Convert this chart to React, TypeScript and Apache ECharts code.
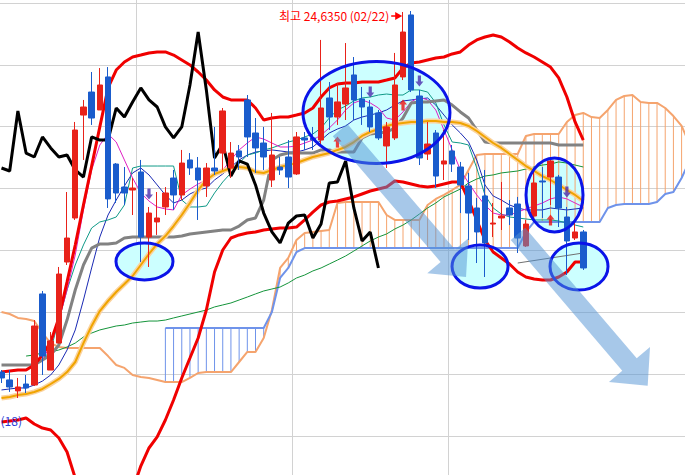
import React, { useEffect, useRef } from 'react';
import * as echarts from 'echarts';

const N = 85;
const categories = Array.from({ length: N }, (_, i) => `D${i + 1}`);

// [open, close, low, high]
const candles = [
  [21717, 21669, 21628, 21733], [21653, 21596, 21556, 21733], [21564, 21596, 21507, 21669], [21620, 21588, 21547, 21693],
  [21612, 22089, 21604, 22137], [22348, 21846, 21693, 22372], [21733, 21968, 21733, 22040], [21951, 22509, 21951, 22566],
  [22606, 22800, 22582, 23172], [22962, 23673, 22946, 23738], [23794, 23859, 23431, 23916], [23980, 23770, 23714, 24142],
  [23835, 24037, 23835, 24174], [24102, 23116, 23043, 24182], [23398, 23164, 23083, 23406], [23212, 23164, 23067, 23374],
  [23188, 23204, 22986, 23285], [23334, 22808, 22606, 23431], [22808, 23002, 22566, 23051], [22930, 22962, 22825, 23172],
  [23051, 23164, 22986, 23212], [23285, 23148, 23027, 23350], [23148, 23406, 23107, 23512], [23431, 23366, 23310, 23487],
  [23366, 23269, 22946, 23455], [23221, 23366, 23132, 23406], [23366, 23342, 23310, 23698], [23487, 23827, 23350, 23851],
  [23366, 23487, 23285, 23576], [23504, 23455, 23350, 23552], [23916, 23617, 23455, 23956], [23649, 23528, 23326, 23770],
  [23568, 23455, 23350, 23698], [23269, 23471, 23212, 23811], [23374, 23350, 23310, 23455], [23455, 23293, 23204, 23592],
  [23318, 23617, 23310, 23657], [23609, 23592, 23512, 23657], [23609, 23592, 23512, 23698], [23592, 23851, 23536, 24401],
  [23932, 23778, 23673, 24061], [23778, 23900, 23714, 24053], [23883, 24013, 23754, 24376], [24118, 23916, 23754, 24263],
  [23924, 23859, 23714, 24021], [23859, 23698, 23657, 23916], [23811, 23609, 23592, 23835], [23544, 23698, 23366, 23738],
  [23609, 24037, 23592, 24296], [24102, 24465, 24077, 24627], [24603, 23997, 23980, 24635], [23948, 23447, 23390, 23997],
  [23479, 23560, 23431, 23738], [23649, 23301, 23204, 23673], [23398, 23423, 23269, 23673], [23504, 23398, 23334, 23552],
  [23374, 23229, 23002, 23415], [23221, 23002, 22784, 23326], [23043, 22849, 22598, 23124], [23140, 22760, 22485, 23350],
  [22913, 22921, 22808, 23083], [22962, 22978, 22865, 23253], [23043, 22986, 22905, 23107], [23075, 22800, 22679, 23132],
  [22736, 22913, 22728, 22946], [22978, 23245, 22962, 23350], [23261, 23253, 22962, 23374], [23293, 23423, 23067, 23455],
  [23293, 23043, 22889, 23310], [22970, 22776, 22501, 23051], [22800, 22849, 22784, 22930], [22849, 22558, 22542, 22865],
];

const bollUpper = [
  21717, 21725, 21733, 21733, 21774, 21855, 21960, 22154, 22445, 22744,
  23067, 23382, 23698, 24013, 24158, 24223, 24263, 24279, 24296, 24304,
  24304, 24279, 24239, 24199, 24142, 24077, 23997, 23940, 23916, 23916,
  23916, 23851, 23754, 23770, 23778, 23778, 23794, 23811, 23851, 23940,
  24013, 24045, 24053, 24053, 24061, 24061, 24061, 24077, 24094, 24174,
  24215, 24223, 24239, 24255, 24263, 24288, 24304, 24360, 24401, 24425,
  24441, 24425, 24385, 24336, 24296, 24263, 24223, 24182, 24094, 23940,
  23738, 23592,
];
const bollLower = [
  21313, 21321, 21329, 21345, 21297, 21264, 21248, 21184, 21070, 20860,
  20682, 20585, 20521, 20505, 20561, 20642, 20763, 20957, 21103, 21192,
  21329, 21491, 21669, 21830, 21992, 22218, 22525, 22703, 22800, 22825,
  22841, 22849, 22865, 22873, 22881, 22881, 22889, 22946, 23010, 23067,
  23091, 23099, 23116, 23132, 23156, 23180, 23196, 23212, 23261, 23253,
  23237, 23221, 23212, 23221, 23237, 23253, 23253, 23107, 22946, 22784,
  22687, 22639, 22590, 22525, 22485, 22469, 22461, 22461, 22485, 22525,
  22606, 22606,
];
const kijun = [
  21774, 21774, 21774, 21774, 21774, 21814, 21855, 21935, 22137, 22380,
  22582, 22719, 22752, 22752, 22760, 22800, 22808, 22808, 22808, 22808,
  22808, 22808, 22816, 22833, 22841, 22849, 22857, 22865, 22865, 22897,
  22946, 22962, 23107, 23431, 23471, 23487, 23487, 23487, 23487, 23512,
  23512, 23495, 23495, 23495, 23609, 23641, 23649, 23657, 23689, 23770,
  23892, 23900, 23900, 23908, 23916, 23875, 23819, 23770, 23673, 23576,
  23568, 23568, 23568, 23568, 23568, 23568, 23568, 23568, 23552, 23552,
  23552, 23552,
];
const maOrange = [
  21507, 21515, 21531, 21539, 21556, 21580, 21620, 21661, 21717, 21798,
  21951, 22089, 22210, 22291, 22364, 22428, 22493, 22582, 22671, 22752,
  22816, 22897, 22986, 23083, 23188, 23269, 23318, 23342, 23366, 23374,
  23366, 23334, 23326, 23350, 23374, 23390, 23406, 23431, 23455, 23471,
  23487, 23512, 23536, 23576, 23625, 23657, 23681, 23706, 23722, 23730,
  23738, 23738, 23746, 23746, 23738, 23738, 23730, 23706, 23665, 23617,
  23568, 23528, 23479, 23431, 23382, 23342, 23301, 23269, 23229, 23188,
  23148, 23099,
];
const maGreen = [
  null, null, null, 21846, 21855, 21871, 21879, 21895, 21919, 21951,
  22000, 22032, 22057, 22073, 22089, 22097, 22113, 22121, 22129, 22129,
  22137, 22154, 22170, 22186, 22202, 22218, 22243, 22259, 22275, 22299,
  22323, 22348, 22372, 22388, 22404, 22437, 22477, 22501, 22534, 22558,
  22590, 22622, 22655, 22695, 22736, 22776, 22808, 22833, 22873, 22905,
  22946, 22994, 23043, 23083, 23132, 23164, 23196, 23245, 23277, 23301,
  23310, 23326, 23334, 23342, 23358, 23374, 23390, 23398, 23415, 23406,
  23390, 23374,
];
const tenkan = [
  null, null, null, null, null, 21814, 21895, 22137, 22380, 22582,
  22744, 22881, 22930, 22946, 22970, 23067, 23366, 23382, 23382, 23382,
  23382, 23382, 23107, 23051, 23051, 23059, 23164, 23253, 23326, 23406,
  23471, 23487, 23512, 23528, 23552, 23576, 23592, 23617, 23641, 23689,
  23770, 23835, 23867, 23908, 23932, 23940, 23956, 23964, 23956, 23956,
  23997, 23997, 23980, 23892, 23714, 23576, 23568, 23552, 23366, 23148,
  23043, 22994, 22970, 22962, 22954, 22946, 22946, 22946, 22938, 22921,
  22905, 22889,
];
const maMagenta = [
  null, null, null, null, null, 21814, 21935, 22137, 22380, 22663,
  23027, 23350, 23552, 23641, 23576, 23431, 23285, 23164, 23099, 23051,
  23035, 23027, 23148, 23196, 23237, 23269, 23301, 23350, 23431, 23512,
  23568, 23617, 23600, 23568, 23536, 23536, 23544, 23568, 23592, 23633,
  23689, 23754, 23835, 23892, 23916, 23892, 23851, 23770, 23754, 23819,
  23900, 23940, 23916, 23835, 23673, 23512, 23350, 23245, 23148, 23067,
  23002, 22986, 22986, 23010, 23035, 23059, 23083, 23116, 23132, 23116,
  23083, 23051,
];
const maNavy = [
  21572, 21580, 21588, 21588, 21612, 21644, 21693, 21774, 21895, 22057,
  22299, 22558, 22808, 22986, 23107, 23221, 23326, 23366, 23310, 23229,
  23148, 23083, 23107, 23156, 23188, 23204, 23269, 23318, 23374, 23431,
  23471, 23495, 23504, 23512, 23504, 23495, 23495, 23512, 23536, 23592,
  23649, 23681, 23706, 23754, 23778, 23794, 23811, 23835, 23875, 23908,
  23916, 23924, 23932, 23875, 23794, 23714, 23649, 23576, 23431, 23229,
  23140, 23107, 23067, 23043, 23027, 23027, 23027, 23043, 23035, 23027,
  23035, 23043,
];
const spanA = [
  22202, 22186, 22154, 22146, 22129, 22032, 21951, 21919, 21911, 21911,
  21911, 21911, 21911, 21846, 21774, 21750, 21693, 21677, 21669, 21653,
  21636, 21636, 21636, 21669, 21709, 21717, 21717, 21717, 21717, 21798,
  21879, 21879, 21992, 22218, 22558, 22639, 22784, 22841, 22849, 22857,
  22865, 23083, 23091, 23091, 23091, 23091, 23091, 22986, 22946, 22946,
  22946, 22946, 23067, 23116, 23148, 23188, 23229, 23350, 23471, 23479,
  23479, 23479, 23479, 23479, 23625, 23641, 23641, 23641, 23641, 23738,
  23794, 23811, 23778, 23770, 23835, 23916, 23948, 23956, 23900, 23892,
  23892, 23851, 23786, 23706, 23552,
];
const spanB = [
  null, null, null, null, null, null, null, null, null, null,
  null, null, null, null, null, null, null, null, null, null,
  22073, 22073, 22073, 22073, 22073, 22073, 22073, 22073, 22073, 22073,
  22073, 22073, 22073, 22202, 22477, 22558, 22687, 22719, 22719, 22719,
  22719, 22719, 22719, 22719, 22719, 22719, 22719, 22719, 22719, 22719,
  22719, 22719, 22719, 22719, 22719, 22719, 22719, 22719, 22719, 22719,
  22719, 22719, 22719, 22719, 22849, 22930, 22930, 22930, 22930, 22930,
  22930, 22930, 22930, 22930, 23043, 23067, 23075, 23075, 23075, 23075,
  23091, 23156, 23172, 23285, 23431,
];
const thinGray = [[63, 22598], [71, 22679]];

const upMarks = [[41, 23576], [49, 23875], [67, 22946]];
const downMarks = [[18, 23156], [45, 23980], [51, 24069], [69, 23172]];

const LAG = 25;
const HIGH_INDEX = 50;
const HIGH_VALUE = 24635;
const highLabel = '최고 24,6350 (02/22)';
const sideLabel = '(18)';
const periodStarts = [17, 36, 55];

// annotations (centers in data units, radii in px)
const ellipses = [
  { idx: 17.45, price: 22610, rx: 28.5, ry: 18.5 },
  { idx: 45.76, price: 23815, rx: 73.5, ry: 51 },
  { idx: 67.49, price: 23148, rx: 28.5, ry: 37 },
  { idx: 58.4, price: 22570, rx: 28, ry: 21.5 },
  { idx: 70.48, price: 22570, rx: 29, ry: 23.5 },
];
const bigArrows = [
  { from: [41.31, 23673], to: [56.69, 22485] },
  { from: [63.03, 22833], to: [78.86, 21606] },
];

const RED = '#e8221a';
const BLUE = '#1a5ccc';
const CLOUD_OR = '#f5a46e';
const CLOUD_BL = '#6f93ea';

// the chart canvas is larger than the visible window so the plot can overflow it
const OFFX = 50;
const OFFY = 100;
const CW = 800;
const CH = 700;

export default function App() {
  const ref = useRef<HTMLDivElement>(null);
  useEffect(() => {
    document.body.style.margin = '0';
    const chart = echarts.init(ref.current!, undefined, { renderer: 'svg' });
    const closes = candles.map((c) => c[1]);
    const chikou = closes.slice(LAG);
    const hatch: number[][] = [];
    for (let i = 0; i < N; i++) {
      const a = spanA[i];
      const b = spanB[i];
      if (a != null && b != null) hatch.push([i, a, b]);
    }
    const line = (data: any[], color: string, width: number, z = 3) => ({
      type: 'line', data, symbol: 'none', silent: true, z,
      lineStyle: { color, width }, connectNulls: false,
    });
    const gridLeft = OFFX - 2.6;
    const gridTop = OFFY - 58.9;
    const gridRight = CW - (OFFX + 693.9);
    const gridBottom = CH - (OFFY + 559.7);
    const option: any = {
      animation: false,
      grid: { left: gridLeft, right: gridRight, top: gridTop, bottom: gridBottom },
      xAxis: {
        type: 'category', data: categories, boundaryGap: true,
        axisLine: { show: false }, axisTick: { show: false }, axisLabel: { show: false },
        splitLine: { show: true, interval: (i: number) => periodStarts.includes(i), lineStyle: { color: '#d2d2d2', width: 1 } },
      },
      yAxis: {
        type: 'value', min: 20200, max: 25200, interval: 500,
        axisLine: { show: false }, axisTick: { show: false }, axisLabel: { show: false },
        splitLine: { show: true, lineStyle: { color: '#d2d2d2', width: 1 } },
      },
      series: [
        {
          type: 'custom', data: hatch, encode: { x: 0, y: [1, 2] }, z: 2, silent: true,
          renderItem: (params: any, api: any) => {
            const i = api.value(0);
            const a = api.value(1);
            const b = api.value(2);
            const p1 = api.coord([i, a]);
            const p2 = api.coord([i, b]);
            return {
              type: 'line',
              shape: { x1: p1[0], y1: p1[1], x2: p2[0], y2: p2[1] },
              style: { stroke: a >= b ? CLOUD_OR : CLOUD_BL, lineWidth: 1 },
            };
          },
        },
        line(spanA, CLOUD_OR, 2, 2),
        line(spanB, CLOUD_BL, 2, 2),
        line(thinGray, '#707070', 1),
        line(maGreen, '#14943a', 1),
        line(maNavy, '#1a2ab4', 1),
        line(tenkan, '#109a88', 1),
        line(maMagenta, '#e020c4', 1),
        line(kijun, '#828282', 3),
        line(maOrange, '#fbd39e', 5),
        line(maOrange, '#f0a400', 2),
        line(bollUpper, '#f00000', 3),
        line(bollLower, '#f00000', 3),
        line(chikou, '#000000', 3),
        {
          type: 'candlestick', data: candles, barWidth: 6, z: 4, silent: true,
          itemStyle: { color: RED, color0: BLUE, borderColor: RED, borderColor0: BLUE, borderWidth: 1 },
        },
        {
          type: 'scatter', data: upMarks, z: 5, silent: true,
          symbol: 'path://M4 0 L8 5 L5.6 5 L5.6 11 L2.4 11 L2.4 5 L0 5 Z', symbolSize: [8, 11],
          itemStyle: { color: '#ee1010' },
        },
        {
          type: 'scatter', data: downMarks, z: 5, silent: true,
          symbol: 'path://M2.4 0 L5.6 0 L5.6 6 L8 6 L4 11 L0 6 L2.4 6 Z', symbolSize: [8, 11],
          itemStyle: { color: '#4a2cae' },
        },
      ],
    };
    chart.setOption(option);

    const px = (i: number, v: number) => {
      const p0 = chart.convertToPixel({ gridIndex: 0 }, [0, v]) as number[];
      const p1 = chart.convertToPixel({ gridIndex: 0 }, [1, v]) as number[];
      return [p0[0] + (p1[0] - p0[0]) * i, p0[1]];
    };
    const graphics: any[] = [];
    ellipses.forEach((e) => {
      const [cx, cy] = px(e.idx, e.price);
      graphics.push({ type: 'ellipse', shape: { cx, cy, rx: e.rx, ry: e.ry }, style: { fill: '#ccffff' }, z: 1, silent: true });
      graphics.push({ type: 'ellipse', shape: { cx, cy, rx: e.rx, ry: e.ry }, style: { fill: 'none', stroke: '#0a14e8', lineWidth: 3 }, z: 6, silent: true });
    });
    bigArrows.forEach((a) => {
      const s = px(a.from[0], a.from[1]);
      const t = px(a.to[0], a.to[1]);
      const dx = t[0] - s[0];
      const dy = t[1] - s[1];
      const len = Math.hypot(dx, dy);
      const ux = dx / len, uy = dy / len;
      const nx = -uy, ny = ux;
      const hw = 9.5, HW = 27, HL = 28;
      const bx = t[0] - ux * HL, by = t[1] - uy * HL;
      const pts = [
        [s[0] + nx * hw, s[1] + ny * hw], [bx + nx * hw, by + ny * hw], [bx + nx * HW, by + ny * HW],
        [t[0], t[1]],
        [bx - nx * HW, by - ny * HW], [bx - nx * hw, by - ny * hw], [s[0] - nx * hw, s[1] - ny * hw],
      ];
      graphics.push({ type: 'polygon', shape: { points: pts }, style: { fill: 'rgba(80,145,212,0.5)' }, z: 7, silent: true });
    });
    const [hx, hy] = px(HIGH_INDEX, HIGH_VALUE);
    graphics.push({
      type: 'text', x: hx - 22, y: hy + 4, z: 8, silent: true,
      style: { text: highLabel, fill: '#ff0000', font: '12px "Noto Sans CJK KR", sans-serif', textAlign: 'right', textVerticalAlign: 'middle' },
    });
    graphics.push({ type: 'line', shape: { x1: hx - 20, y1: hy + 5, x2: hx - 12, y2: hy + 5 }, style: { stroke: '#ff0000', lineWidth: 1.5 }, z: 8, silent: true });
    graphics.push({ type: 'polygon', shape: { points: [[hx - 16, hy + 1], [hx - 9, hy + 5], [hx - 16, hy + 9]] }, style: { fill: '#ff0000' }, z: 8, silent: true });
    graphics.push({
      type: 'text', x: OFFX + 22, y: OFFY + 420, z: 8, silent: true,
      style: { text: sideLabel, fill: '#2a3cd8', font: '12px "Noto Sans CJK KR", sans-serif', textAlign: 'right', textVerticalAlign: 'middle' },
    });
    chart.setOption({ graphic: graphics });
    return () => chart.dispose();
  }, []);
  return (
    <div style={{ position: 'relative', width: 685, height: 475, overflow: 'hidden' }}>
      <div ref={ref} style={{ position: 'absolute', left: -OFFX, top: -OFFY, width: CW, height: CH }} />
    </div>
  );
}
